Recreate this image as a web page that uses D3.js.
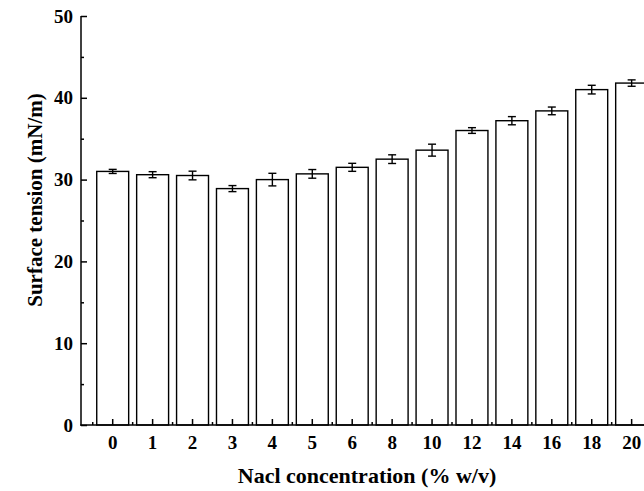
<!DOCTYPE html>
<html>
<head>
<meta charset="utf-8">
<script src="https://cdn.jsdelivr.net/npm/d3@7"></script>
<style>
  html, body { margin: 0; padding: 0; background: #fff; }
  svg { display: block; }
  text { font-family: "Liberation Serif", "Times New Roman", serif; font-weight: bold; fill: #000; }
</style>
</head>
<body>
<script>
const categories = ["0","1","2","3","4","5","6","8","10","12","14","16","18","20"];
const values = [31.0,30.6,30.5,28.9,30.0,30.7,31.5,32.5,33.6,36.0,37.2,38.4,41.0,41.8];
const errors = [0.25,0.37,0.53,0.37,0.77,0.53,0.49,0.53,0.73,0.35,0.50,0.47,0.53,0.39];
const yTicks = [0,10,20,30,40,50];
const yMinorTicks = [5,15,25,35,45];

const W = 644, H = 491;
const axisX = 81, axisBottomY = 425, axisTopY = 16;

const svg = d3.select("body").append("svg").attr("width", W).attr("height", H);

const x = d3.scaleBand().domain(categories).range([92.74, 651.6]).paddingInner(0.2).paddingOuter(0.1);
const y = d3.scaleLinear().domain([0, 50]).range([axisBottomY, axisTopY]);

// bars
const data = categories.map((c, i) => ({c, v: values[i], e: errors[i]}));
svg.append("g").selectAll("rect").data(data).join("rect")
  .attr("x", d => x(d.c))
  .attr("y", d => y(d.v))
  .attr("width", x.bandwidth())
  .attr("height", d => y(0) - y(d.v))
  .attr("fill", "#fff").attr("stroke", "#000").attr("stroke-width", 1.4);

// error bars
const eg = svg.append("g").attr("stroke", "#000").attr("stroke-width", 1.4);
data.forEach(d => {
  const cx = x(d.c) + x.bandwidth() / 2;
  eg.append("line").attr("x1", cx).attr("x2", cx).attr("y1", y(d.v + d.e)).attr("y2", y(d.v - d.e));
  eg.append("line").attr("x1", cx - 4).attr("x2", cx + 4).attr("y1", y(d.v + d.e)).attr("y2", y(d.v + d.e));
  eg.append("line").attr("x1", cx - 4).attr("x2", cx + 4).attr("y1", y(d.v - d.e)).attr("y2", y(d.v - d.e));
});

// y axis
const yAxis = svg.append("g").attr("transform", `translate(${axisX},0)`)
  .call(d3.axisLeft(y).tickValues(yTicks).tickSize(-6).tickPadding(8).tickFormat(d3.format("d")));
yAxis.selectAll("text").style("font-size", "19px").style("font-family", "'Liberation Serif', serif").style("font-weight", "bold");
yAxis.selectAll("line, path").attr("stroke", "#000").attr("stroke-width", 1.5);
yAxis.select(".domain").remove();
const yMinor = svg.append("g").attr("transform", `translate(${axisX},0)`)
  .call(d3.axisLeft(y).tickValues(yMinorTicks).tickSize(-3).tickFormat(""));
yMinor.select(".domain").remove();
yMinor.selectAll("line").attr("stroke", "#000").attr("stroke-width", 1.5);

// x axis
const xAxis = svg.append("g").attr("transform", `translate(0,${axisBottomY})`)
  .call(d3.axisBottom(x).tickSize(-6).tickPadding(10.5));
xAxis.select(".domain").remove();
xAxis.selectAll("line").attr("stroke", "#000").attr("stroke-width", 1.5);
xAxis.selectAll("text").style("font-size", "19px").style("font-family", "'Liberation Serif', serif").style("font-weight", "bold");

// x minor ticks at band boundaries
const boundaries = categories.map(c => x(c) - x.step() * x.paddingInner() / 2)
  .concat([x(categories[categories.length - 1]) + x.bandwidth() + x.step() * x.paddingInner() / 2]);
svg.append("g").selectAll("line").data(boundaries).join("line")
  .attr("x1", d => d).attr("x2", d => d)
  .attr("y1", axisBottomY).attr("y2", axisBottomY - 3)
  .attr("stroke", "#000").attr("stroke-width", 1.5);

// axis lines
svg.append("line").attr("x1", axisX).attr("x2", axisX).attr("y1", axisTopY).attr("y2", axisBottomY + 0.75)
  .attr("stroke", "#000").attr("stroke-width", 1.5);
svg.append("line").attr("x1", axisX - 0.75).attr("x2", 652).attr("y1", axisBottomY).attr("y2", axisBottomY)
  .attr("stroke", "#000").attr("stroke-width", 1.5);

// titles
svg.append("text").attr("x", 367).attr("y", 483).attr("text-anchor", "middle")
  .style("font-size", "22px").text("Nacl concentration (% w/v)");
svg.append("text").attr("transform", "translate(42,200) rotate(-90)").attr("text-anchor", "middle")
  .style("font-size", "21px").text("Surface tension (mN/m)");
</script>
</body>
</html>
